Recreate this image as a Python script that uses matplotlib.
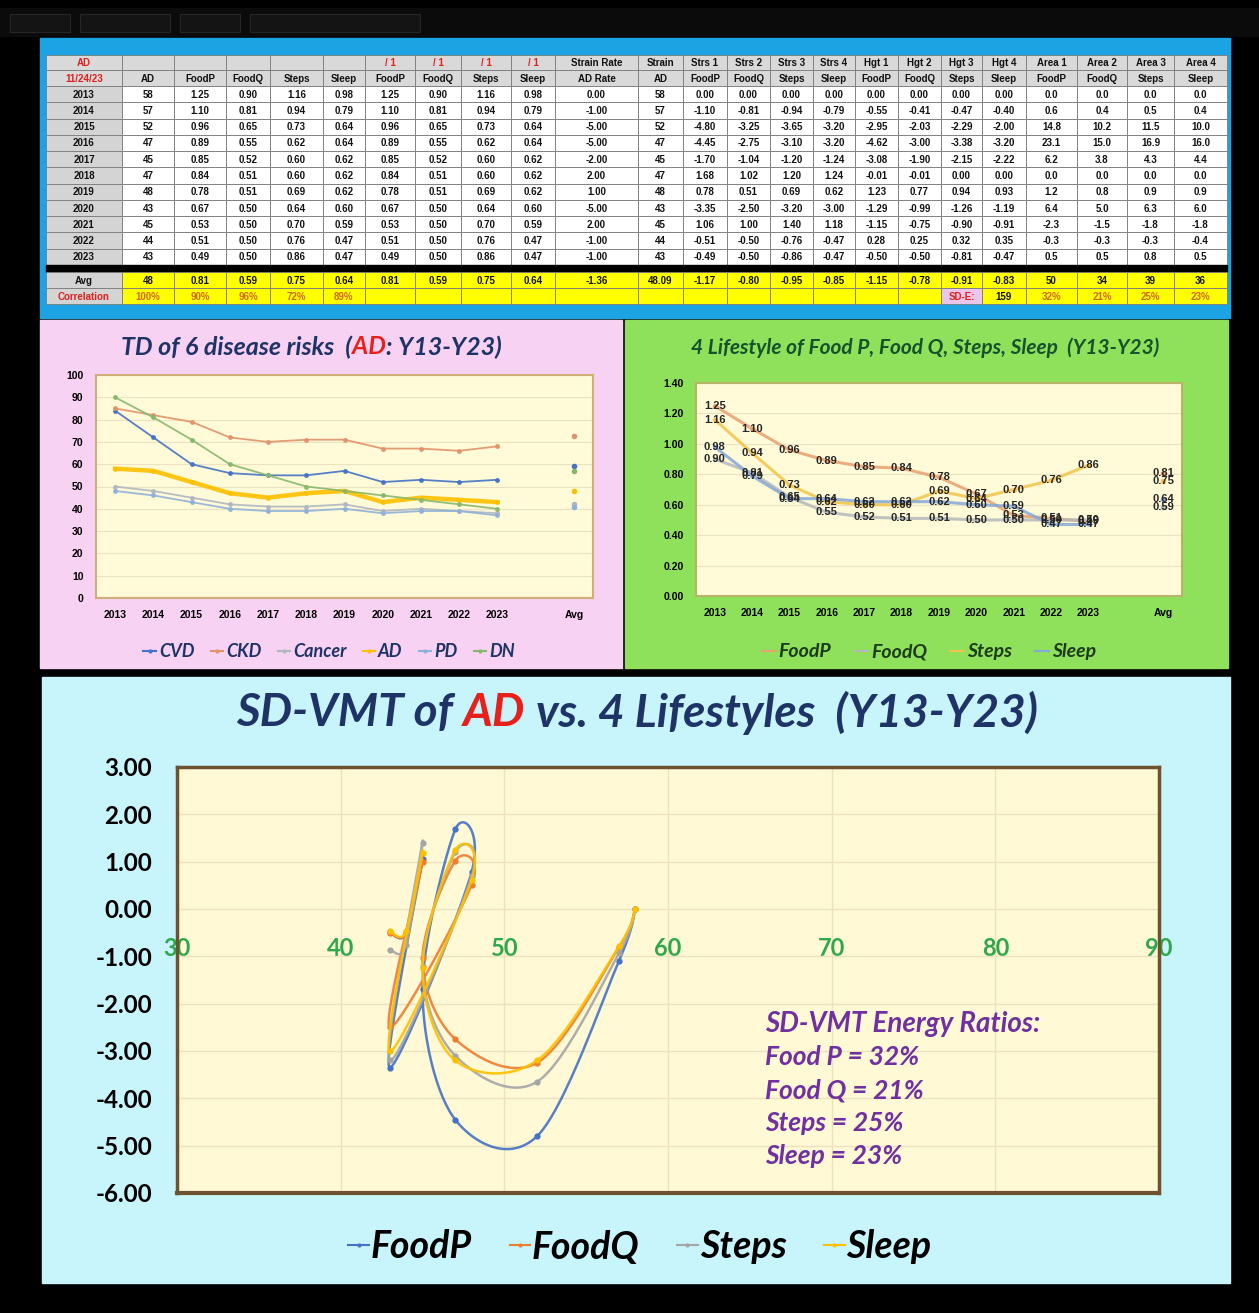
import numpy as np
import matplotlib
matplotlib.use('Agg')
import matplotlib.pyplot as plt
from matplotlib.patches import Rectangle
from matplotlib.lines import Line2D

plt.rcParams['axes.unicode_minus'] = False

W, H = 1259, 1313

# ---------------- data ----------------
years = [2013, 2014, 2015, 2016, 2017, 2018, 2019, 2020, 2021, 2022, 2023]
ad = [58, 57, 52, 47, 45, 47, 48, 43, 45, 44, 43]
foodp = [1.25, 1.10, 0.96, 0.89, 0.85, 0.84, 0.78, 0.67, 0.53, 0.51, 0.49]
foodq = [0.90, 0.81, 0.65, 0.55, 0.52, 0.51, 0.51, 0.50, 0.50, 0.50, 0.50]
steps = [1.16, 0.94, 0.73, 0.62, 0.60, 0.60, 0.69, 0.64, 0.70, 0.76, 0.86]
sleep = [0.98, 0.79, 0.64, 0.64, 0.62, 0.62, 0.62, 0.60, 0.59, 0.47, 0.47]
strain_rate = [0.00, -1.00, -5.00, -5.00, -2.00, 2.00, 1.00, -5.00, 2.00, -1.00, -1.00]

strs_foodp = [0.00, -1.10, -4.80, -4.45, -1.70, 1.68, 0.78, -3.35, 1.06, -0.51, -0.49]
strs_foodq = [0.00, -0.81, -3.25, -2.75, -1.04, 1.02, 0.51, -2.50, 1.00, -0.50, -0.50]
strs_steps = [0.00, -0.94, -3.65, -3.10, -1.20, 1.20, 0.69, -3.20, 1.40, -0.76, -0.86]
strs_sleep = [0.00, -0.79, -3.20, -3.20, -1.24, 1.24, 0.62, -3.00, 1.18, -0.47, -0.47]

hgt_foodp = [0.00, -0.55, -2.95, -4.62, -3.08, -0.01, 1.23, -1.29, -1.15, 0.28, -0.50]
hgt_foodq = [0.00, -0.41, -2.03, -3.00, -1.90, -0.01, 0.77, -0.99, -0.75, 0.25, -0.50]
hgt_steps = [0.00, -0.47, -2.29, -3.38, -2.15, 0.00, 0.94, -1.26, -0.90, 0.32, -0.81]
hgt_sleep = [0.00, -0.40, -2.00, -3.20, -2.22, 0.00, 0.93, -1.19, -0.91, 0.35, -0.47]

area_foodp = [0.0, 0.6, 14.8, 23.1, 6.2, 0.0, 1.2, 6.4, -2.3, -0.3, 0.5]
area_foodq = [0.0, 0.4, 10.2, 15.0, 3.8, 0.0, 0.8, 5.0, -1.5, -0.3, 0.5]
area_steps = [0.0, 0.5, 11.5, 16.9, 4.3, 0.0, 0.9, 6.3, -1.8, -0.3, 0.8]
area_sleep = [0.0, 0.4, 10.0, 16.0, 4.4, 0.0, 0.9, 6.0, -1.8, -0.4, 0.5]

correlation = [100, 90, 96, 72, 89]

# 6 disease risks
cvd = [84, 72, 60, 56, 55, 55, 57, 52, 53, 52, 53]
ckd = [85, 82, 79, 72, 70, 71, 71, 67, 67, 66, 68]
cancer = [50, 48, 45, 42, 41, 41, 42, 39, 40, 39, 38]
pd_risk = [48, 46, 43, 40, 39, 39, 40, 38, 39, 39, 37]
dn = [90, 81, 71, 60, 55, 50, 48, 46, 44, 42, 40]

head1 = ['AD', '', '', '', '', '', '/ 1', '/ 1', '/ 1', '/ 1', 'Strain Rate', 'Strain',
         'Strs 1', 'Strs 2', 'Strs 3', 'Strs 4', 'Hgt 1', 'Hgt 2', 'Hgt 3', 'Hgt 4',
         'Area 1', 'Area 2', 'Area 3', 'Area 4']
head2 = ['11/24/23', 'AD', 'FoodP', 'FoodQ', 'Steps', 'Sleep', 'FoodP', 'FoodQ', 'Steps', 'Sleep',
         'AD Rate', 'AD', 'FoodP', 'FoodQ', 'Steps', 'Sleep', 'FoodP', 'FoodQ', 'Steps', 'Sleep',
         'FoodP', 'FoodQ', 'Steps', 'Sleep']

# colours
NAVY = '#1f3466'
C_BLUE, C_ORANGE, C_GRAY, C_GOLD = '#4472c4', '#ed7d31', '#a5a5a5', '#ffc000'
PLOT_BG = '#fffbd8'
FONT = 'Lato'


def px_rect(x0, y0, x1, y1):
    return [x0 / W, 1 - y1 / H, (x1 - x0) / W, (y1 - y0) / H]


def rich_text(fig, xc, yc, parts, size, **kw):
    # draw coloured pieces of one line, centred on xc
    r = fig.canvas.get_renderer()
    objs, widths = [], []
    for s, c in parts:
        t = fig.text(0, 1 - yc / H, s, color=c, fontsize=size, va='center', ha='left', **kw)
        widths.append(t.get_window_extent(renderer=r).width)
        objs.append(t)
    x = xc - sum(widths) / 2
    for t, w in zip(objs, widths):
        t.set_x(x / W)
        x += w


def smooth(xs, ys, sx, sy, n=30):
    # excel style smoothed line (bezier through points, tension 1/6)
    P = np.column_stack([np.array(xs, float) * sx, np.array(ys, float) * sy])
    out = []
    for i in range(len(P) - 1):
        p0 = P[i - 1] if i > 0 else P[i]
        p1, p2 = P[i], P[i + 1]
        p3 = P[i + 2] if i + 2 < len(P) else P[i + 1]
        c1 = p1 + (p2 - p0) / 6
        c2 = p2 - (p3 - p1) / 6
        t = np.linspace(0, 1, n)[:, None]
        seg = (1 - t) ** 3 * p1 + 3 * (1 - t) ** 2 * t * c1 + 3 * (1 - t) * t ** 2 * c2 + t ** 3 * p2
        out.append(seg if i == 0 else seg[1:])
    out = np.vstack(out)
    return out[:, 0] / sx, out[:, 1] / sy


fig = plt.figure(figsize=(W / 100, H / 100), dpi=100, facecolor='black')
bg = fig.add_axes([0, 0, 1, 1])
bg.set_xlim(0, W)
bg.set_ylim(H, 0)
bg.axis('off')

# ---------------- panels ----------------
bg.add_patch(Rectangle((0, 8), W, 28, color='#0b0b0b'))
for x0, x1 in [(10, 70), (80, 170), (180, 240), (250, 420)]:
    bg.add_patch(Rectangle((x0, 14), x1 - x0, 18, facecolor='#141414', edgecolor='#262626', lw=0.8))
bg.add_patch(Rectangle((40, 38), 1190, 280, color='#1ba3e3'))
bg.add_patch(Rectangle((40, 320), 582, 348, color='#f8d2f2'))
bg.add_patch(Rectangle((625, 320), 603, 348, color='#8fe05a'))
bg.add_patch(Rectangle((42, 677), 1188, 606, color='#c8f4fb'))

# ---------------- table ----------------
col_edges = [46, 122, 174, 226, 270, 323, 365, 415, 461, 511, 555, 638, 683, 727, 770,
             813, 855, 898, 941, 982, 1026, 1077, 1127, 1174, 1227]
row_h = (265 - 86) / 11.0
tfont = dict(fontsize=7, fontweight='bold', family='Liberation Sans', ha='center', va='center')


def cell(ci, y0, y1, txt, face, color='#111111'):
    x0, x1 = col_edges[ci], col_edges[ci + 1]
    bg.add_patch(Rectangle((x0, y0), x1 - x0, y1 - y0, facecolor=face, edgecolor='#7a7a7a', lw=0.6))
    if txt != '':
        bg.text((x0 + x1) / 2, (y0 + y1) / 2 + 0.5, txt, color=color, **tfont)


for ci in range(24):
    c1 = '#e0201c' if (ci == 0 or head1[ci] == '/ 1') else '#111111'
    cell(ci, 55, 70, head1[ci], '#d9d9d9', c1)
    cell(ci, 70, 86, head2[ci], '#d9d9d9', '#e0201c' if ci == 0 else '#111111')

body_cols = [ad, foodp, foodq, steps, sleep, foodp, foodq, steps, sleep, strain_rate, ad,
             strs_foodp, strs_foodq, strs_steps, strs_sleep,
             hgt_foodp, hgt_foodq, hgt_steps, hgt_sleep,
             area_foodp, area_foodq, area_steps, area_sleep]
for ri, yr in enumerate(years):
    y0 = 86 + ri * row_h
    cell(0, y0, y0 + row_h, str(yr), '#d4d4d4')
    for k, col in enumerate(body_cols):
        ci = k + 1
        if ci in (1, 11):
            s = '%d' % col[ri]
        elif ci >= 20:
            s = '%.1f' % col[ri]
        else:
            s = '%.2f' % col[ri]
        cell(ci, y0, y0 + row_h, s, 'white')

bg.add_patch(Rectangle((46, 265), 1181, 7, color='black'))

# avg row
area_sums = [sum(a) for a in (area_foodp, area_foodq, area_steps, area_sleep)]
avg_txt = ['Avg', '%d' % round(np.mean(ad))]
for col in body_cols[1:9] + [strain_rate]:
    avg_txt.append('%.2f' % np.mean(col))
avg_txt.append('%.2f' % np.mean(ad))
for col in body_cols[11:19]:
    avg_txt.append('%.2f' % np.mean(col))
avg_txt += ['%d' % round(s) for s in area_sums]
for ci, s in enumerate(avg_txt):
    cell(ci, 272, 288, s, '#d4d4d4' if ci == 0 else '#ffff00')

total = sum(area_sums)
corr_txt = ['Correlation'] + ['%d%%' % c for c in correlation] + [''] * 12 + \
           ['SD-E:', '%d' % total] + ['%d%%' % round(100 * s / total) for s in area_sums]
for ci, s in enumerate(corr_txt):
    if ci == 0:
        cell(ci, 288, 304, s, '#d4d4d4', '#e0201c')
    elif ci == 18:
        cell(ci, 288, 304, s, '#e9c6ea', '#e0201c')
    elif ci == 19:
        cell(ci, 288, 304, s, '#ffff00')
    else:
        cell(ci, 288, 304, s, '#ffff00', '#d2691e')

cats = list(range(11))
xlabels = [str(y) for y in years] + ['', 'Avg']

# ---------------- left: 6 disease risks ----------------
ax1 = fig.add_axes(px_rect(96, 375, 593, 598))
ax1.set_facecolor(PLOT_BG)
ax1.set_xlim(-0.5, 12.5)
ax1.set_ylim(0, 100)
ax1.set_yticks(range(0, 101, 10))
ax1.set_yticklabels([str(v) for v in range(0, 101, 10)])
ax1.set_xticks(range(13))
ax1.set_xticklabels(xlabels)
ax1.grid(axis='y', color='#ece2c2', lw=0.8)
ax1.set_axisbelow(True)
for sp in ax1.spines.values():
    sp.set_color('#cfae78')
    sp.set_linewidth(1.5)
ax1.tick_params(length=0, labelsize=7.5, pad=9)
for lab in ax1.get_xticklabels() + ax1.get_yticklabels():
    lab.set_fontweight('bold')
    lab.set_family('Liberation Sans')

left_series = [('CVD', cvd, C_BLUE, 1.3), ('CKD', ckd, '#e0926a', 1.3), ('Cancer', cancer, '#b0b6c0', 1.3),
               ('AD', ad, C_GOLD, 3.2), ('PD', pd_risk, '#8fb0d8', 1.3), ('DN', dn, '#86b86a', 1.3)]
handles = []
for name, vals, c, lw in left_series:
    ax1.plot(cats, vals, color=c, lw=lw, marker='o', ms=2.5, alpha=0.9)
    ax1.plot([12], [np.mean(vals)], color=c, marker='o', ms=3, ls='none')
    handles.append(Line2D([0], [0], color=c, lw=1.5, marker='o', ms=2))
fig.legend(handles, [s[0] for s in left_series], loc='center', bbox_to_anchor=(329 / W, 1 - 652 / H),
           ncol=6, frameon=False, handlelength=0.7, handletextpad=0.15, columnspacing=0.9,
           prop=dict(family=FONT, weight='bold', style='italic', size=13), labelcolor=NAVY)
rich_text(fig, 311, 347, [('TD of 6 disease risks  (', NAVY), ('AD', '#e8201c'), (': Y13-Y23)', NAVY)],
          18, family=FONT, fontweight='bold', style='italic')

# ---------------- right: 4 lifestyles ----------------
ax2 = fig.add_axes(px_rect(696, 383, 1182, 596))
ax2.set_facecolor(PLOT_BG)
ax2.set_xlim(-0.5, 12.5)
ax2.set_ylim(0, 1.4)
ticks2 = [0.0, 0.2, 0.4, 0.6, 0.8, 1.0, 1.2, 1.4]
ax2.set_yticks(ticks2)
ax2.set_yticklabels(['%.2f' % v for v in ticks2])
ax2.set_xticks(range(13))
ax2.set_xticklabels(xlabels)
ax2.grid(axis='y', color='#ece2c2', lw=0.8)
ax2.set_axisbelow(True)
for sp in ax2.spines.values():
    sp.set_color('#b9b36a')
    sp.set_linewidth(1.5)
ax2.tick_params(length=0, labelsize=7.5, pad=9)
for lab in ax2.get_xticklabels() + ax2.get_yticklabels():
    lab.set_fontweight('bold')
    lab.set_family('Liberation Sans')

right_series = [('FoodP', foodp, '#e8a070'), ('FoodQ', foodq, '#b4b8bc'),
                ('Steps', steps, '#f2c44a'), ('Sleep', sleep, '#86a8d6')]
handles = []
for name, vals, c in right_series:
    ax2.plot(cats, vals, color=c, lw=2.2, marker='o', ms=2.5, alpha=0.85)
    m = np.mean(vals)
    ax2.plot([12], [m], color=c, marker='o', ms=3, ls='none')
    for xi, v in zip(cats, vals):
        ax2.text(xi, v, '%.2f' % v, fontsize=8, fontweight='bold', color='#262626',
                 ha='center', va='center', family='Liberation Sans')
    ax2.text(12, m, '%.2f' % m, fontsize=8, fontweight='bold', color='#262626',
             ha='center', va='center', family='Liberation Sans')
    handles.append(Line2D([0], [0], color=c, lw=1.5))
fig.legend(handles, [s[0] for s in right_series], loc='center', bbox_to_anchor=(929 / W, 1 - 652 / H),
           ncol=4, frameon=False, handlelength=0.7, handletextpad=0.15, columnspacing=1.2,
           prop=dict(family=FONT, weight='bold', style='italic', size=14), labelcolor='#1c3a1c')
fig.text(925 / W, 1 - 348 / H, '4 Lifestyle of Food P, Food Q, Steps, Sleep  (Y13-Y23)', color='#16522c',
         fontsize=15, family=FONT, fontweight='bold', style='italic', ha='center', va='center')

# ---------------- bottom: SD-VMT ----------------
ax3 = fig.add_axes(px_rect(177, 767, 1159, 1193))
ax3.set_facecolor('#fff9d6')
ax3.set_xlim(30, 90)
ax3.set_ylim(-6, 3)
yt = list(range(-6, 4))
ax3.set_yticks(yt)
ax3.set_yticklabels(['%.2f' % v for v in yt])
ax3.set_xticks(range(30, 91, 10))
ax3.set_xticklabels([str(v) for v in range(30, 91, 10)])
ax3.grid(color='#ede2bd', lw=1.0)
ax3.set_axisbelow(True)
for sp in ['left', 'right', 'top']:
    ax3.spines[sp].set_color('#6e5230')
    ax3.spines[sp].set_linewidth(2.5)
ax3.spines['bottom'].set_position(('data', 0))
ax3.spines['bottom'].set_visible(False)
ax3.axhline(-6, color='#6e5230', lw=3.0, clip_on=False)
ax3.tick_params(axis='y', length=0, labelsize=17.5, pad=18)
ax3.tick_params(axis='x', length=0, labelsize=17, pad=20, labelcolor='#2fa84c')
for lab in ax3.get_xticklabels() + ax3.get_yticklabels():
    lab.set_fontweight('bold')
    lab.set_family(FONT)

sx, sy = 982 / 60.0, 426 / 9.0
bottom_series = [('FoodP', strs_foodp, C_BLUE), ('FoodQ', strs_foodq, C_ORANGE),
                 ('Steps', strs_steps, C_GRAY), ('Sleep', strs_sleep, C_GOLD)]
handles = []
for name, vals, c in bottom_series:
    xs, ys = smooth(ad, vals, sx, sy)
    ax3.plot(xs, ys, color=c, lw=1.8, alpha=0.9)
    ax3.plot(ad, vals, color=c, marker='o', ms=3.5, ls='none')
    handles.append(Line2D([0], [0], color=c, lw=1.5, marker='o', ms=2))
fig.legend(handles, [s[0] for s in bottom_series], loc='center', bbox_to_anchor=(640 / W, 1 - 1247 / H),
           ncol=4, frameon=False, handlelength=0.55, handletextpad=0.05, columnspacing=1.0,
           prop=dict(family=FONT, weight='bold', style='italic', size=27), labelcolor='black')
rich_text(fig, 637, 713, [('SD-VMT of ', NAVY), ('AD', '#e8201c'), (' vs. 4 Lifestyles  (Y13-Y23)', NAVY)],
          33, family=FONT, fontweight='bold', style='italic')

PURPLE = '#7030a0'
fig.text(765 / W, 1 - 1024 / H, 'SD-VMT Energy Ratios:', color=PURPLE, fontsize=20, family=FONT,
         fontweight='bold', style='italic', va='center', ha='left')
bg.plot([765, 1043], [1037, 1037], color=PURPLE, lw=1.8)
for i, (nm, s) in enumerate(zip(['Food P', 'Food Q', 'Steps', 'Sleep'], area_sums)):
    fig.text(765 / W, 1 - (1057 + i * 33) / H, '%s = %d%%' % (nm, round(100 * s / total)), color=PURPLE,
             fontsize=19, family=FONT, fontweight='bold', style='italic', va='center', ha='left')

fig.savefig('out.png', dpi=100, facecolor='black')
